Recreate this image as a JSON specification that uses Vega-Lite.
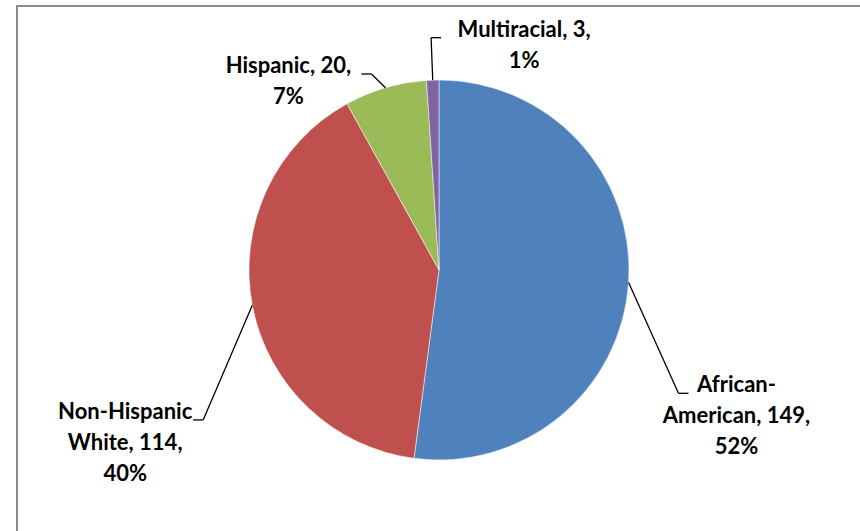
{
  "$schema": "https://vega.github.io/schema/vega-lite/v6.json",
  "width": 846,
  "height": 528,
  "autosize": {"type": "none"},
  "padding": {"left": 17, "top": 6, "right": 0, "bottom": 0},
  "background": "#ffffff",
  "config": {"view": {"stroke": "#8c8c8c", "strokeWidth": 2}},
  "data": {
    "values": [
      {"race": "African-American", "count": 149},
      {"race": "Non-Hispanic White", "count": 114},
      {"race": "Hispanic", "count": 20},
      {"race": "Multiracial", "count": 3}
    ]
  },
  "transform": [
    {"window": [{"op": "row_number", "as": "idx"}]},
    {"joinaggregate": [{"op": "sum", "field": "count", "as": "total"}]},
    {"window": [{"op": "sum", "field": "count", "as": "cum"}], "sort": [{"field": "idx"}], "frame": [null, 0]},
    {"calculate": "2 * PI * (datum.cum - datum.count / 2) / datum.total", "as": "mid"},
    {"calculate": "round(100 * datum.count / datum.total)", "as": "pct"},
    {"calculate": "length(datum.race) > 12 ? (indexof(datum.race, ' ') > 0 ? replace(datum.race, ' ', '|') : replace(datum.race, '-', '-|')) : datum.race", "as": "wrapped"},
    {"calculate": "datum.wrapped + ', ' + datum.count + ',|' + datum.pct + '%'", "as": "label"},
    {"calculate": "sin(datum.mid) > -0.05 ? 1 : -1", "as": "side"},
    {"calculate": "190 * sin(datum.mid)", "as": "x0"},
    {"calculate": "190 * cos(datum.mid)", "as": "y0"},
    {"calculate": "240 * sin(datum.mid)", "as": "ex"},
    {"calculate": "236 * cos(datum.mid) - 108 * abs(sin(datum.mid))", "as": "ey"},
    {"calculate": "datum.ex + 10 * datum.side", "as": "fx"},
    {"calculate": "datum.side * (5 * indexof(datum.label, '|') + 8) + datum.fx", "as": "tx"},
    {"calculate": "datum.ey + 18", "as": "ty"}
  ],
  "layer": [
    {
      "mark": {"type": "arc", "outerRadius": 190, "stroke": "#ffffff", "strokeWidth": 0.5},
      "encoding": {
        "x": {"datum": 0, "type": "quantitative", "scale": {"domain": [-422, 424]}, "axis": null},
        "y": {"datum": 0, "type": "quantitative", "scale": {"domain": [-264, 264]}, "axis": null},
        "theta": {"field": "count", "type": "quantitative", "stack": true},
        "order": {"field": "idx", "type": "quantitative"},
        "color": {
          "field": "race",
          "type": "nominal",
          "scale": {
            "domain": ["African-American", "Non-Hispanic White", "Hispanic", "Multiracial"],
            "range": ["#4f81bd", "#c0504d", "#9bbb59", "#8064a2"]
          },
          "legend": null
        }
      }
    },
    {
      "mark": {"type": "rule", "color": "#000000", "strokeWidth": 1.3},
      "encoding": {
        "x": {"field": "x0", "type": "quantitative", "scale": {"domain": [-422, 424]}, "axis": null},
        "y": {"field": "y0", "type": "quantitative", "scale": {"domain": [-264, 264]}, "axis": null},
        "x2": {"field": "ex"},
        "y2": {"field": "ey"}
      }
    },
    {
      "mark": {"type": "rule", "color": "#000000", "strokeWidth": 1.3},
      "encoding": {
        "x": {"field": "ex", "type": "quantitative", "scale": {"domain": [-422, 424]}, "axis": null},
        "y": {"field": "ey", "type": "quantitative", "scale": {"domain": [-264, 264]}, "axis": null},
        "x2": {"field": "fx"},
        "y2": {"field": "ey"}
      }
    },
    {
      "mark": {
        "type": "text",
        "font": "Lato",
        "fontWeight": "bold",
        "fontSize": 22,
        "lineBreak": "|",
        "lineHeight": 31,
        "align": "center",
        "baseline": "top",
        "color": "#000000"
      },
      "encoding": {
        "x": {"field": "tx", "type": "quantitative", "scale": {"domain": [-422, 424]}, "axis": null},
        "y": {"field": "ty", "type": "quantitative", "scale": {"domain": [-264, 264]}, "axis": null},
        "text": {"field": "label", "type": "nominal"}
      }
    }
  ]
}
